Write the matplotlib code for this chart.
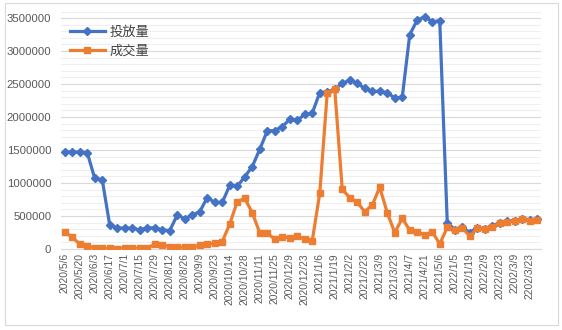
import matplotlib
matplotlib.use('Agg')
import matplotlib.pyplot as plt
from matplotlib.patches import Rectangle
from matplotlib.ticker import MultipleLocator, FuncFormatter

plt.rcParams['font.family'] = ['Noto Sans CJK SC', 'DejaVu Sans']

# ── Data ──────────────────────────────────────────────────────────────────────
dates = [
    '2020/5/6', '2020/5/13', '2020/5/20', '2020/5/27', '2020/6/3', '2020/6/10',
    '2020/6/17', '2020/6/24', '2020/7/1', '2020/7/8', '2020/7/15', '2020/7/22',
    '2020/7/29', '2020/8/5', '2020/8/12', '2020/8/19', '2020/8/26', '2020/9/2',
    '2020/9/9', '2020/9/16', '2020/9/23', '2020/9/30', '2020/10/14', '2020/10/21',
    '2020/10/28', '2020/11/4', '2020/11/11', '2020/11/18', '2020/11/25', '2020/12/2',
    '2020/12/9', '2020/12/16', '2020/12/23', '2020/12/30', '2021/1/6', '2021/1/13',
    '2021/1/19', '2021/1/26', '2021/2/2', '2021/2/9', '2021/2/23', '2021/3/2',
    '2021/3/9', '2021/3/16', '2021/3/23', '2021/3/30', '2021/4/7', '2021/4/14',
    '2021/4/21', '2021/4/28', '2021/5/6', '2021/5/12', '2022/1/5', '2022/1/12',
    '2022/1/19', '2022/1/26', '2022/2/9', '2022/2/16', '2022/2/23', '2022/3/2',
    '2202/3/9', '2022/3/16', '2202/3/23', '2022/3/30',
]

supply = [
    1470000, 1470000, 1470000, 1460000, 1070000, 1050000, 360000, 320000,
    315000, 315000, 290000, 320000, 320000, 290000, 280000, 515000,
    460000, 515000, 565000, 780000, 705000, 705000, 965000, 950000,
    1095000, 1250000, 1510000, 1790000, 1795000, 1855000, 1965000, 1950000,
    2040000, 2060000, 2370000, 2385000, 2420000, 2510000, 2560000, 2510000,
    2435000, 2390000, 2390000, 2370000, 2290000, 2300000, 3250000, 3470000,
    3520000, 3445000, 3460000, 400000, 295000, 333000, 250000, 322000,
    310000, 350000, 400000, 425000, 432000, 462000, 442000, 452000,
]

deals = [
    262000, 180000, 72000, 38000, 20000, 10000, 10000, 5000,
    20000, 15000, 10000, 10000, 75000, 62000, 35000, 25000,
    28000, 25000, 60000, 75000, 85000, 110000, 380000, 717000,
    768000, 550000, 247000, 237000, 152000, 186000, 171000, 190000,
    150000, 126000, 844000, 2370000, 2420000, 905000, 777000, 707000,
    565000, 667000, 935000, 550000, 247000, 465000, 285000, 262000,
    212000, 262000, 76000, 328000, 288000, 323000, 195000, 313000,
    298000, 338000, 389000, 414000, 424000, 450000, 429000, 440000,
]

series_names = ['投放量', '成交量']

BLUE = '#4472C4'
ORANGE = '#ED7D31'
TXT = '#595959'

fig = plt.figure(figsize=(5.62, 3.30), dpi=100, facecolor='white')

# chart-area border
fig.patches.append(Rectangle((5 / 562, 5 / 330), 553 / 562, 322 / 330,
                             transform=fig.transFigure, fill=False,
                             edgecolor='#D9D9D9', linewidth=0.8))

ax = fig.add_axes([61 / 562, 81 / 330, 480 / 562, 237.5 / 330])
x = list(range(len(dates)))

ax.plot(x, supply, color=BLUE, lw=2.3, marker='D', markersize=4.4,
        label=series_names[0], zorder=3)
ax.plot(x, deals, color=ORANGE, lw=2.3, marker='s', markersize=4.6,
        label=series_names[1], zorder=4)

ax.set_xlim(-0.5, len(dates) - 0.5)
ax.set_ylim(0, 3600000)

ax.yaxis.set_major_locator(MultipleLocator(500000))
ax.yaxis.set_minor_locator(MultipleLocator(100000))
ax.yaxis.set_major_formatter(FuncFormatter(lambda v, p: f'{int(v)}'))
ax.grid(axis='y', which='major', color='#D9D9D9', lw=0.8, zorder=0)
ax.grid(axis='y', which='minor', color='#EFEFEF', lw=0.8, zorder=0)
ax.set_axisbelow(True)

ax.set_xticks(x[::2])
ax.set_xticklabels(dates[::2], rotation=90, fontsize=7.4, color=TXT,
                   family=['Liberation Sans', 'DejaVu Sans'])
ax.tick_params(axis='x', length=0, pad=3)
ax.tick_params(axis='y', which='both', length=0, pad=7, labelsize=8.2,
               labelcolor=TXT)
for lab in ax.get_yticklabels():
    lab.set_family(['Liberation Sans', 'DejaVu Sans'])

for s in ['top', 'right', 'left']:
    ax.spines[s].set_visible(False)
ax.spines['bottom'].set_color('#D9D9D9')
ax.spines['bottom'].set_linewidth(0.8)

leg = ax.legend(loc='upper left', bbox_to_anchor=(0.0, 0.98), frameon=False,
                fontsize=9.5, handlelength=2.6, handletextpad=0.4,
                labelspacing=0.45, borderaxespad=0.3)
for t in leg.get_texts():
    t.set_color('#404040')

fig.savefig('out.png', dpi=100)
